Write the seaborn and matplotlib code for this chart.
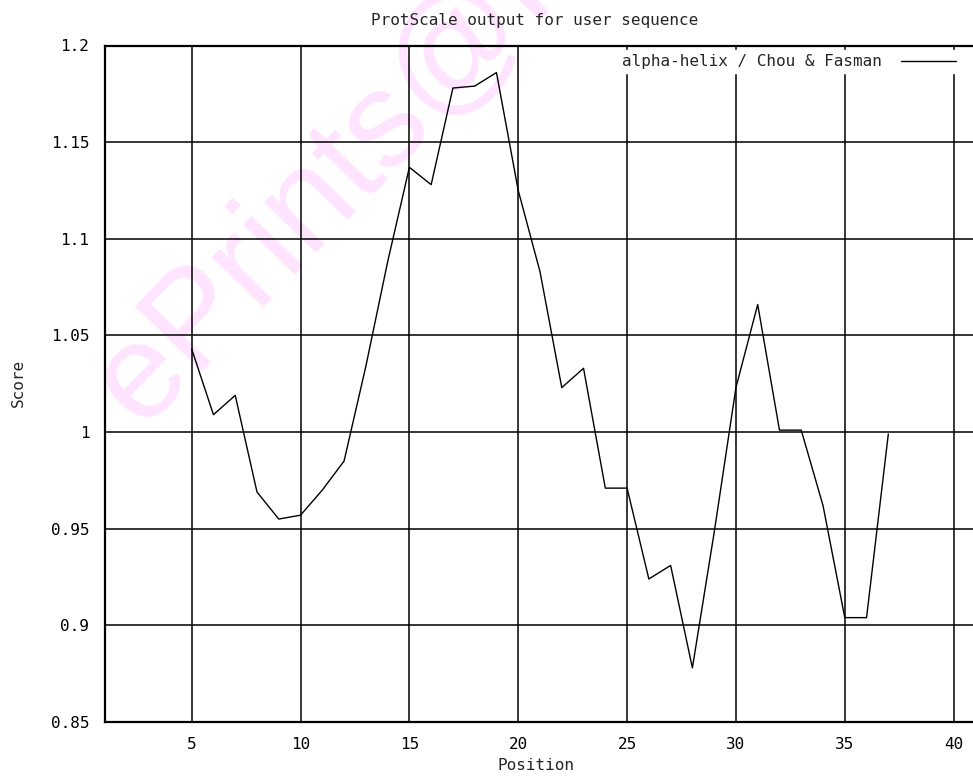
import matplotlib
matplotlib.use("Agg")
import matplotlib.pyplot as plt
import seaborn as sns
import pandas as pd

# values (window centre positions 5..37)
positions = list(range(5, 38))
scores = [1.043, 1.009, 1.019, 0.969, 0.955, 0.957, 0.970, 0.985, 1.034, 1.088,
          1.137, 1.128, 1.178, 1.179, 1.186, 1.125, 1.083, 1.023, 1.033, 0.971,
          0.971, 0.924, 0.931, 0.878, 0.948, 1.023, 1.066, 1.001, 1.001, 0.962,
          0.904, 0.904, 0.999]
x_ticks = [5, 10, 15, 20, 25, 30, 35, 40]
y_ticks = [0.85, 0.9, 0.95, 1.0, 1.05, 1.1, 1.15, 1.2]
y_tick_labels = ["0.85", "0.9", "0.95", "1", "1.05", "1.1", "1.15", "1.2"]
series_name = "alpha-helix / Chou & Fasman"

df = pd.DataFrame({"Position": positions, "Score": scores, "scale": series_name})

sns.set_style("white")
plt.rcParams['font.family'] = ['DejaVu Sans Mono', 'DejaVu Sans']
mono = 11.5

W, H = 973, 776
fig = plt.figure(figsize=(W / 100, H / 100), dpi=100)
# axes runs off the right edge of the picture, like the original crop
left_px, right_px, top_px, bottom_px = 104.6, 975.4, 45.5, 722
ax = fig.add_axes([left_px / W, (H - bottom_px) / H,
                   (right_px - left_px) / W, (bottom_px - top_px) / H])
ax.set_facecolor("none")

# faint watermark behind everything
fig.text(140 / W, (H - 428) / H, "ePrints@IISc", rotation=46, rotation_mode="anchor",
         ha="left", va="baseline", fontsize=98, color="#ffe4ff",
         family="Liberation Sans", zorder=-5)

sns.lineplot(data=df, x="Position", y="Score", hue="scale", palette=["black"],
             linewidth=1.0, ax=ax, zorder=3)

ax.set_xlim(1, 41)
ax.set_ylim(0.85, 1.2)
ax.set_xticks(x_ticks)
ax.set_yticks(y_ticks)
ax.set_yticklabels(y_tick_labels)
ax.tick_params(length=0, labelsize=mono, pad=11, colors="black")
ax.grid(True, color="black", linewidth=1.1)
ax.set_axisbelow(True)
for side in ["left", "bottom", "top", "right"]:
    ax.spines[side].set_color("black")
    ax.spines[side].set_linewidth(1.6)

ax.set_xlabel("")
ax.set_ylabel("")
fig.text(535 / W, (H - 20) / H, "ProtScale output for user sequence",
         ha="center", va="center", fontsize=mono)
fig.text(536 / W, (H - 765) / H, "Position", ha="center", va="center", fontsize=mono)
fig.text(18 / W, (H - 383) / H, "Score", ha="center", va="center",
         rotation=90, fontsize=mono)

leg = ax.legend(loc="upper right", bbox_to_anchor=(0.982, 0.993), borderaxespad=0,
                markerfirst=False, frameon=True, fancybox=False, framealpha=1,
                facecolor="white", edgecolor="white", fontsize=mono,
                handlelength=3.4, handletextpad=1.2, borderpad=0.25, title=None)

fig.savefig("out.png", dpi=100)
